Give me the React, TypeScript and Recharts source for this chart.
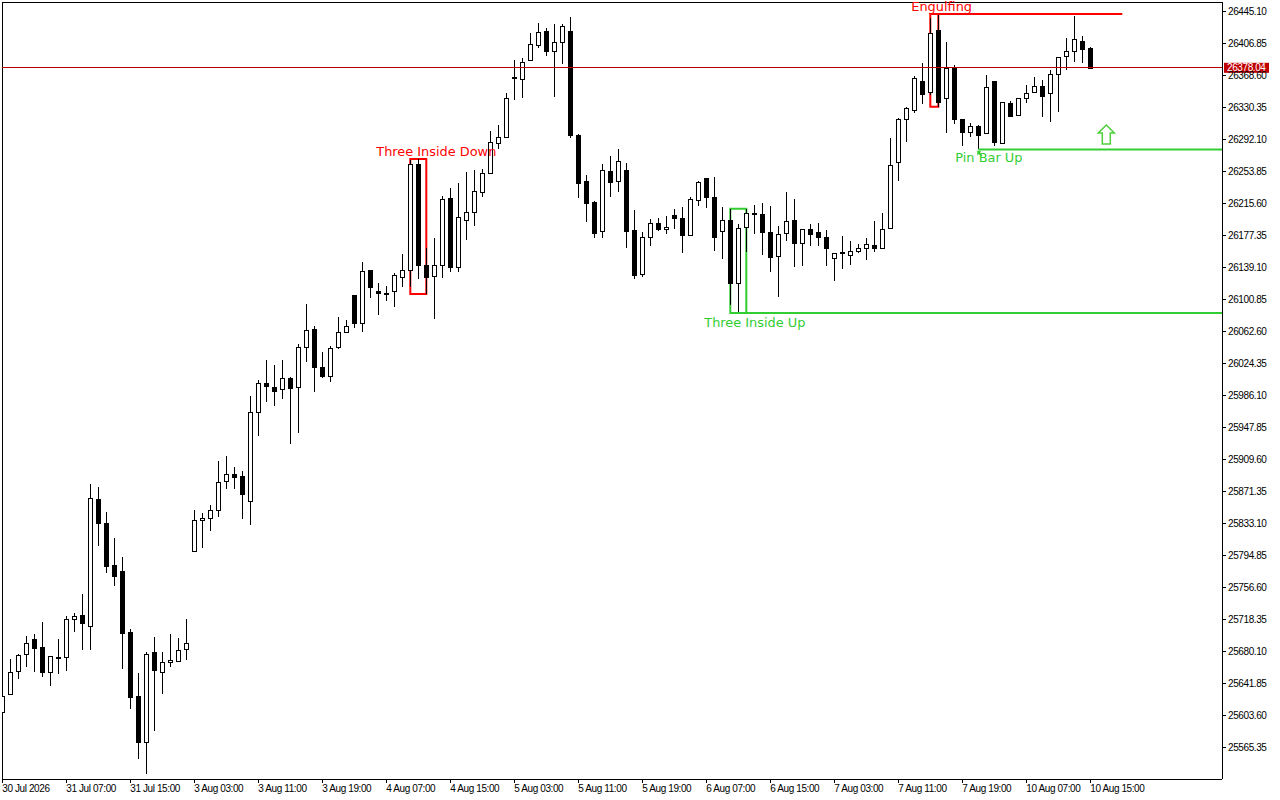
import {
  Bar,
  ComposedChart,
  ReferenceArea,
  ReferenceDot,
  ReferenceLine,
  XAxis,
  YAxis,
} from "recharts";

// hourly candles, 30 Jul 2026 .. 10 Aug 15:00
const OPEN = [
  25608.9, 25629.2, 25656.5, 25677.0, 25694.9, 25685.7, 25656.0, 25673.4, 25673.4, 25718.8,
  25723.6, 25710.5, 25862.3, 25834.0, 25783.4, 25776.6, 25703.7, 25627.2, 25572.6, 25679.7,
  25656.0, 25667.4, 25668.6, 25682.8, 25800.2, 25837.2, 25839.6, 25849.1, 25883.8, 25892.2,
  25889.8, 25859.9, 25966.3, 26001.0, 25996.5, 25993.8, 26007.3, 25996.2, 26044.0, 26065.4,
  26020.1, 26008.8, 26044.0, 26061.9, 26106.0, 26072.6, 26136.0, 26110.9, 26108.5, 26111.2,
  26128.3, 26136.0, 26263.1, 26142.0, 26128.3, 26141.5, 26222.0, 26139.1, 26195.7, 26205.3,
  26229.2, 26252.3, 26287.8, 26295.0, 26366.2, 26365.5, 26387.4, 26405.3, 26422.4, 26397.8,
  26408.5, 26422.4, 26298.2, 26242.7, 26218.0, 26183.8, 26255.1, 26242.1, 26256.3, 26184.1,
  26130.7, 26175.4, 26192.1, 26184.9, 26201.7, 26198.1, 26177.7, 26219.6, 26246.0, 26223.2,
  26182.6, 26196.1, 26120.4, 26187.4, 26204.1, 26202.9, 26181.4, 26152.3, 26180.2, 26195.7,
  26168.2, 26184.9, 26181.4, 26175.4, 26150.6, 26157.8, 26153.9, 26158.7, 26161.8, 26165.9,
  26161.8, 26185.7, 26264.6, 26316.9, 26327.3, 26362.3, 26348.8, 26423.2, 26341.6, 26377.5,
  26316.5, 26301.3, 26308.8, 26300.2, 26362.0, 26287.8, 26336.4, 26320.8, 26342.8, 26348.8,
  26355.9, 26347.6, 26370.6, 26391.3, 26397.3, 26409.7, 26401.4,
];
const HIGH = [
  25631.9, 25671.4, 25677.0, 25699.2, 25701.3, 25715.6, 25675.0, 25695.3, 25722.8, 25726.0,
  25749.1, 25880.6, 25877.0, 25846.7, 25815.7, 25792.9, 25707.2, 25654.6, 25679.7, 25697.7,
  25679.7, 25701.3, 25696.5, 25719.2, 25849.5, 25845.9, 25855.5, 25908.1, 25914.1, 25900.9,
  25896.1, 25985.8, 26004.9, 26028.8, 26022.8, 26028.8, 26008.0, 26047.5, 26095.7, 26069.1,
  26038.3, 26045.2, 26079.8, 26076.2, 26106.5, 26145.5, 26136.5, 26120.4, 26116.8, 26132.7,
  26155.5, 26267.9, 26269.1, 26162.6, 26174.6, 26225.1, 26234.7, 26240.3, 26253.3, 26256.3,
  26256.6, 26302.5, 26309.4, 26347.6, 26387.4, 26389.4, 26419.3, 26431.2, 26425.6, 26430.4,
  26430.4, 26438.4, 26299.0, 26249.6, 26219.2, 26263.1, 26272.7, 26281.0, 26264.3, 26208.0,
  26181.7, 26197.3, 26198.1, 26200.9, 26209.3, 26211.6, 26224.0, 26242.7, 26246.4, 26247.2,
  26211.3, 26209.6, 26191.0, 26209.6, 26214.0, 26216.1, 26212.8, 26188.9, 26229.6, 26221.2,
  26185.2, 26191.3, 26192.1, 26184.1, 26156.5, 26176.9, 26170.6, 26167.4, 26174.6, 26194.9,
  26204.1, 26294.2, 26318.1, 26331.6, 26368.6, 26383.4, 26437.6, 26442.4, 26409.3, 26381.4,
  26317.0, 26312.4, 26309.7, 26369.5, 26362.3, 26337.6, 26338.8, 26342.3, 26357.5, 26367.4,
  26363.5, 26375.8, 26391.0, 26414.0, 26440.3, 26416.1, 26403.3,
];
const LOW = [
  25605.7, 25628.0, 25647.5, 25662.2, 25656.0, 25650.4, 25639.7, 25653.4, 25657.6, 25703.7,
  25682.5, 25682.5, 25806.8, 25774.6, 25759.1, 25659.8, 25611.3, 25552.2, 25534.3, 25585.7,
  25629.9, 25662.2, 25668.0, 25670.2, 25799.5, 25804.1, 25824.8, 25841.5, 25875.0, 25875.0,
  25839.1, 25831.9, 25938.3, 25979.0, 25974.2, 25982.6, 25928.8, 25941.9, 26026.7, 25990.9,
  26007.6, 26003.0, 26042.3, 26061.5, 26067.0, 26062.8, 26102.5, 26082.9, 26099.7, 26092.5,
  26116.4, 26116.4, 26125.2, 26107.6, 26077.4, 26127.1, 26134.3, 26134.3, 26172.5, 26189.3,
  26224.0, 26251.6, 26280.5, 26294.6, 26339.6, 26342.3, 26387.0, 26402.1, 26392.2, 26343.5,
  26382.2, 26293.9, 26222.7, 26194.1, 26174.2, 26174.9, 26224.0, 26229.2, 26162.3, 26125.2,
  26128.3, 26165.4, 26183.3, 26179.7, 26184.9, 26157.0, 26177.3, 26212.8, 26210.8, 26158.7,
  26149.8, 26094.5, 26085.0, 26158.2, 26179.4, 26154.3, 26133.6, 26104.1, 26171.0, 26140.3,
  26141.5, 26165.4, 26165.4, 26141.5, 26122.7, 26137.5, 26142.7, 26156.3, 26148.3, 26158.2,
  26161.0, 26185.3, 26243.2, 26289.7, 26324.6, 26334.2, 26345.5, 26331.6, 26300.2, 26310.9,
  26285.0, 26295.7, 26280.5, 26299.8, 26285.0, 26287.0, 26320.5, 26320.5, 26335.6, 26348.5,
  26319.6, 26313.6, 26325.6, 26375.4, 26385.3, 26384.1, 26378.0,
];
const CLOSE = [
  25627.5, 25655.8, 25676.2, 25690.1, 25683.7, 25656.0, 25674.6, 25671.8, 25718.8, 25722.4,
  25713.6, 25863.9, 25833.1, 25782.9, 25770.1, 25702.8, 25626.5, 25572.6, 25677.4, 25657.6,
  25667.4, 25669.8, 25681.8, 25690.1, 25837.2, 25839.9, 25849.1, 25882.7, 25892.2, 25888.1,
  25868.3, 25966.3, 26001.0, 25996.9, 25991.4, 26007.3, 25995.0, 26044.0, 26064.3, 26020.1,
  26008.8, 26042.8, 26061.9, 26069.1, 26072.6, 26134.8, 26115.7, 26108.5, 26106.8, 26130.0,
  26136.3, 26263.1, 26142.3, 26127.1, 26142.0, 26220.8, 26139.1, 26199.3, 26205.3, 26230.4,
  26252.3, 26289.0, 26295.0, 26341.6, 26367.1, 26385.4, 26406.1, 26420.5, 26398.5, 26408.5,
  26428.0, 26298.6, 26241.4, 26216.1, 26180.9, 26256.3, 26241.4, 26266.3, 26183.3, 26130.7,
  26175.4, 26192.1, 26184.9, 26187.4, 26197.6, 26177.3, 26220.8, 26241.4, 26222.7, 26174.9,
  26196.1, 26120.4, 26186.2, 26204.1, 26202.9, 26180.9, 26151.1, 26178.9, 26194.5, 26168.2,
  26184.9, 26178.5, 26175.4, 26161.8, 26156.1, 26156.6, 26158.7, 26162.3, 26167.0, 26161.8,
  26184.9, 26261.5, 26316.5, 26329.7, 26365.5, 26347.3, 26419.3, 26337.4, 26377.5, 26316.5,
  26301.0, 26308.8, 26298.1, 26355.5, 26288.6, 26337.2, 26320.8, 26341.6, 26348.3, 26355.9,
  26343.5, 26370.6, 26390.6, 26397.8, 26412.1, 26400.2, 26378.04,
];

const TIME_TICKS = [0, 8, 16, 24, 32, 40, 48, 56, 64, 72, 80, 88, 96, 104, 112, 120, 128, 136];
const TIME_LABELS = [
  "30 Jul 2026", "31 Jul 07:00", "31 Jul 15:00", "3 Aug 03:00", "3 Aug 11:00", "3 Aug 19:00",
  "4 Aug 07:00", "4 Aug 15:00", "5 Aug 03:00", "5 Aug 11:00", "5 Aug 19:00", "6 Aug 07:00",
  "6 Aug 15:00", "7 Aug 03:00", "7 Aug 11:00", "7 Aug 19:00", "10 Aug 07:00", "10 Aug 15:00",
];
const PRICE_TICKS = [
  25565.35, 25603.6, 25641.85, 25680.1, 25718.35, 25756.6, 25794.85, 25833.1, 25871.35,
  25909.6, 25947.85, 25986.1, 26024.35, 26062.6, 26100.85, 26139.1, 26177.35, 26215.6,
  26253.85, 26292.1, 26330.35, 26368.6, 26406.85, 26445.1,
];
const LAST_PRICE = 26378.04;

// pattern markers: box over the pattern candles, level line, caption
const BOXES = [
  { from: 51, to: 53, low: 26107.6, high: 26269.1, color: "#ff0000" },
  { from: 91, to: 93, low: 26085.0, high: 26209.6, color: "#32cd32" },
  { from: 116, to: 117, low: 26331.6, high: 26442.4, color: "#ff0000" },
];
const LEVELS = [
  { from: 91, to: 152.46, price: 26085.0, color: "#32cd32" },
  { from: 116, to: 140, price: 26442.4, color: "#ff0000" },
  { from: 122, to: 152.46, price: 26280.5, color: "#32cd32" },
];
const CAPTIONS = [
  { text: "Three Inside Down", at: 51, price: 26269.1, dx: -34, dy: -3, color: "#ff0000" },
  { text: "Three Inside Up", at: 91, price: 26085.0, dx: -26, dy: 14, color: "#32cd32" },
  { text: "Pin Bar Up", at: 122, price: 26280.5, dx: -23, dy: 13, color: "#32cd32" },
  { text: "Engulfing", at: 116, price: 26442.4, dx: -19, dy: -3, color: "#ff0000" },
];
const SIGNAL_ARROW = { at: 138, price: 26298.3 };

const X_DOMAIN = [-0.0375, 152.4625];
const Y_DOMAIN = [25527.96, 26456.71];
const AXIS_FONT = "'Liberation Sans', Arial, sans-serif";
const LABEL_FONT = "'DejaVu Sans', Verdana, sans-serif";

const candles = OPEN.map((o, i) => ({
  i,
  o,
  h: HIGH[i],
  l: LOW[i],
  c: CLOSE[i],
  range: [LOW[i], HIGH[i]],
}));

function Candle(props: any) {
  const { x, y, width, height } = props;
  const d = props.payload ?? props;
  const top = Math.min(y, y + height);
  const span = Math.abs(height);
  const k = span / (d.h - d.l || 1);
  const py = (p: number) => top + (d.h - p) * k;
  const cx = Math.round(x + width / 2) + 0.5;
  const bodyTop = py(Math.max(d.o, d.c));
  const bodyBot = py(Math.min(d.o, d.c));
  const up = d.c >= d.o;
  return (
    <g shapeRendering="crispEdges">
      <line x1={cx} x2={cx} y1={top} y2={top + span} stroke="#000" />
      <rect
        x={cx - 2}
        y={Math.round(bodyTop) + 0.5}
        width={4}
        height={Math.max(Math.round(bodyBot - bodyTop), 1)}
        fill={up ? "#fff" : "#000"}
        stroke="#000"
      />
    </g>
  );
}

function PriceTick({ x, y, payload }: any) {
  return (
    <text x={x} y={y} dy="0.36em" fontSize={10} letterSpacing={-0.4} fontFamily={AXIS_FONT} fill="#000">
      {Number(payload.value).toFixed(2)}
    </text>
  );
}

function TimeTick({ x, y, payload }: any) {
  const idx = TIME_TICKS.indexOf(payload.value);
  return (
    <text x={x} y={y} dy="0.72em" fontSize={10} letterSpacing={-0.4} fontFamily={AXIS_FONT} fill="#000">
      {TIME_LABELS[idx]}
    </text>
  );
}

function LastPriceTag({ viewBox }: any) {
  if (!viewBox) return null;
  const x = viewBox.x + viewBox.width + 2;
  return (
    <g>
      <rect x={x} y={viewBox.y - 5} width={45} height={10} fill="#c00000" />
      <text x={x + 3} y={viewBox.y} dy="0.36em" fontSize={10} letterSpacing={-0.4} fontFamily={AXIS_FONT} fill="#fff">
        {LAST_PRICE.toFixed(2)}
      </text>
    </g>
  );
}

export default function App() {
  return (
    <div style={{ position: "fixed", left: 0, top: 0, width: 1280, height: 800, background: "#fff" }}>
      <div
        style={{
          position: "absolute",
          left: 2,
          top: 2,
          width: 1220,
          height: 777,
          borderLeft: "1px solid #000",
          borderTop: "1px solid #000",
          boxSizing: "border-box",
          pointerEvents: "none",
        }}
      />
      <ComposedChart width={1280} height={800} data={candles} margin={{ top: 2, right: 0, left: 2, bottom: 0 }}>
        <XAxis
          dataKey="i"
          type="number"
          scale="linear"
          domain={X_DOMAIN}
          allowDataOverflow
          ticks={TIME_TICKS}
          interval={0}
          height={21}
          tickSize={4}
          tickMargin={2}
          axisLine={{ stroke: "#000", shapeRendering: "crispEdges" }}
          tickLine={{ stroke: "#000", shapeRendering: "crispEdges" }}
          tick={<TimeTick />}
        />
        <YAxis
          orientation="right"
          type="number"
          domain={Y_DOMAIN}
          allowDataOverflow
          ticks={PRICE_TICKS}
          interval={0}
          width={58}
          tickSize={4}
          tickMargin={2}
          axisLine={{ stroke: "#000", shapeRendering: "crispEdges" }}
          tickLine={{ stroke: "#000", shapeRendering: "crispEdges" }}
          tick={<PriceTick />}
        />
        <ReferenceLine
          y={LAST_PRICE}
          stroke="#b40000"
          strokeWidth={1}
          shapeRendering="crispEdges"
          label={<LastPriceTag />}
        />
        <Bar dataKey="range" barSize={5} shape={<Candle />} isAnimationActive={false} />
        {BOXES.map((b, n) => (
          <ReferenceArea
            key={`box-${n}`}
            x1={b.from}
            x2={b.to}
            y1={b.low}
            y2={b.high}
            fill="none"
            fillOpacity={0}
            stroke={b.color}
            strokeWidth={2}
            ifOverflow="visible"
          />
        ))}
        {LEVELS.map((l, n) => (
          <ReferenceLine
            key={`lvl-${n}`}
            segment={[
              { x: l.from, y: l.price },
              { x: l.to, y: l.price },
            ]}
            stroke={l.color}
            strokeWidth={2}
            ifOverflow="visible"
          />
        ))}
        {CAPTIONS.map((t, n) => (
          <ReferenceDot
            key={`cap-${n}`}
            x={t.at}
            y={t.price}
            r={0}
            ifOverflow="visible"
            shape={(p: any) => (
              <text x={p.cx + t.dx} y={p.cy + t.dy} fontSize={12.9} fontFamily={LABEL_FONT} fill={t.color}>
                {t.text}
              </text>
            )}
          />
        ))}
        <ReferenceDot
          x={122}
          y={26280.5}
          r={0}
          ifOverflow="visible"
          shape={(p: any) => (
            <path
              d={`M${p.cx - 1},${p.cy + 1} l4,1 l-1.5,1.5 l2.5,2.5 l-1,1 l-2.5,-2.5 l-1.5,1.5 z`}
              fill="#32cd32"
            />
          )}
        />
        <ReferenceDot
          x={SIGNAL_ARROW.at}
          y={SIGNAL_ARROW.price}
          r={0}
          ifOverflow="visible"
          shape={(p: any) => (
            <path
              d={`M${p.cx},${p.cy - 9.5} L${p.cx + 8},${p.cy - 1.5} L${p.cx + 4},${p.cy - 1.5} L${p.cx + 4},${p.cy + 9.5} L${p.cx - 4},${p.cy + 9.5} L${p.cx - 4},${p.cy - 1.5} L${p.cx - 8},${p.cy - 1.5} Z`}
              fill="#fff"
              stroke="#4ccf3a"
              strokeWidth={1.5}
            />
          )}
        />
      </ComposedChart>
    </div>
  );
}
